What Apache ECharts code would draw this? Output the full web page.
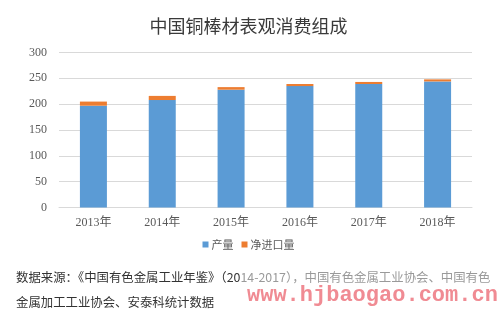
<!DOCTYPE html>
<html><head><meta charset="utf-8">
<script src="https://cdn.jsdelivr.net/npm/echarts@6/dist/echarts.min.js"></script>
<style>html,body{margin:0;padding:0;background:#fff}#c{width:497px;height:321px}</style>
</head><body><div id="c"></div>
<script>
const categories = ['2013年','2014年','2015年','2016年','2017年','2018年'];
const production = [197, 208, 228, 235, 239, 244];
const netImport = [8, 8, 5, 4, 4, 4];
const yTicks = [0, 50, 100, 150, 200, 250, 300];

const chart = echarts.init(document.getElementById('c'), null, {renderer:'canvas'});
chart.setOption({
  animation:false,
  backgroundColor:'#fff',
  title:{text:'中国铜棒材表观消费组成', left:'center', top:12,
    textStyle:{fontFamily:'Noto Sans CJK SC', fontSize:18, fontWeight:'normal', color:'#3a3a3a'}},
  legend:{data:['产量','净进口量'], left:'center', top:234, icon:'rect', itemWidth:6, itemHeight:6, itemGap:8,
    textStyle:{fontFamily:'Noto Sans CJK SC', fontSize:11, color:'#595959', padding:[0,0,0,-2]}},
  grid:{left:59, right:25, top:52.5, bottom:113.5},
  xAxis:{type:'category', data:categories,
    axisLine:{lineStyle:{color:'#d9d9d9'}}, axisTick:{show:false},
    axisLabel:{fontFamily:'Liberation Serif, Noto Sans CJK SC', fontSize:12, color:'#595959', margin:9}},
  yAxis:{type:'value', min:yTicks[0], max:yTicks[yTicks.length-1], interval:50,
    axisLine:{show:false}, axisTick:{show:false},
    splitLine:{lineStyle:{color:'#d9d9d9'}},
    axisLabel:{fontFamily:'Liberation Serif', fontSize:12, color:'#595959', margin:12}},
  series:[
    {name:'产量', type:'bar', stack:'t', data:production, barWidth:27, itemStyle:{color:'#5B9BD5'}},
    {name:'净进口量', type:'bar', stack:'t', data:netImport, barWidth:27, itemStyle:{color:'#ED7D31'}}
  ],
  graphic:[
    {type:'text', left:16, top:271, style:{
      text:'{a|数据来源：《中国有色金属工业年鉴》（20}{b|14-2017），中国有色金属工业协会、中国有色}',
      rich:{a:{fontFamily:'Noto Sans CJK SC', fontSize:12.4, fill:'#333'}, b:{fontFamily:'Noto Sans CJK SC', fontSize:12.4, fill:'#9a9a9a'}}}},
    {type:'text', left:16, top:296, style:{text:'金属加工工业协会、安泰科统计数据',
      font:'12.4px "Noto Sans CJK SC"', fill:'#333'}},
    {type:'text', left:247, top:284, style:{text:'www.hjbaogao.com.cn',
      font:'bold 22px "Liberation Mono"', fill:'rgba(236,110,120,0.8)'}}
  ]
});
</script></body></html>
